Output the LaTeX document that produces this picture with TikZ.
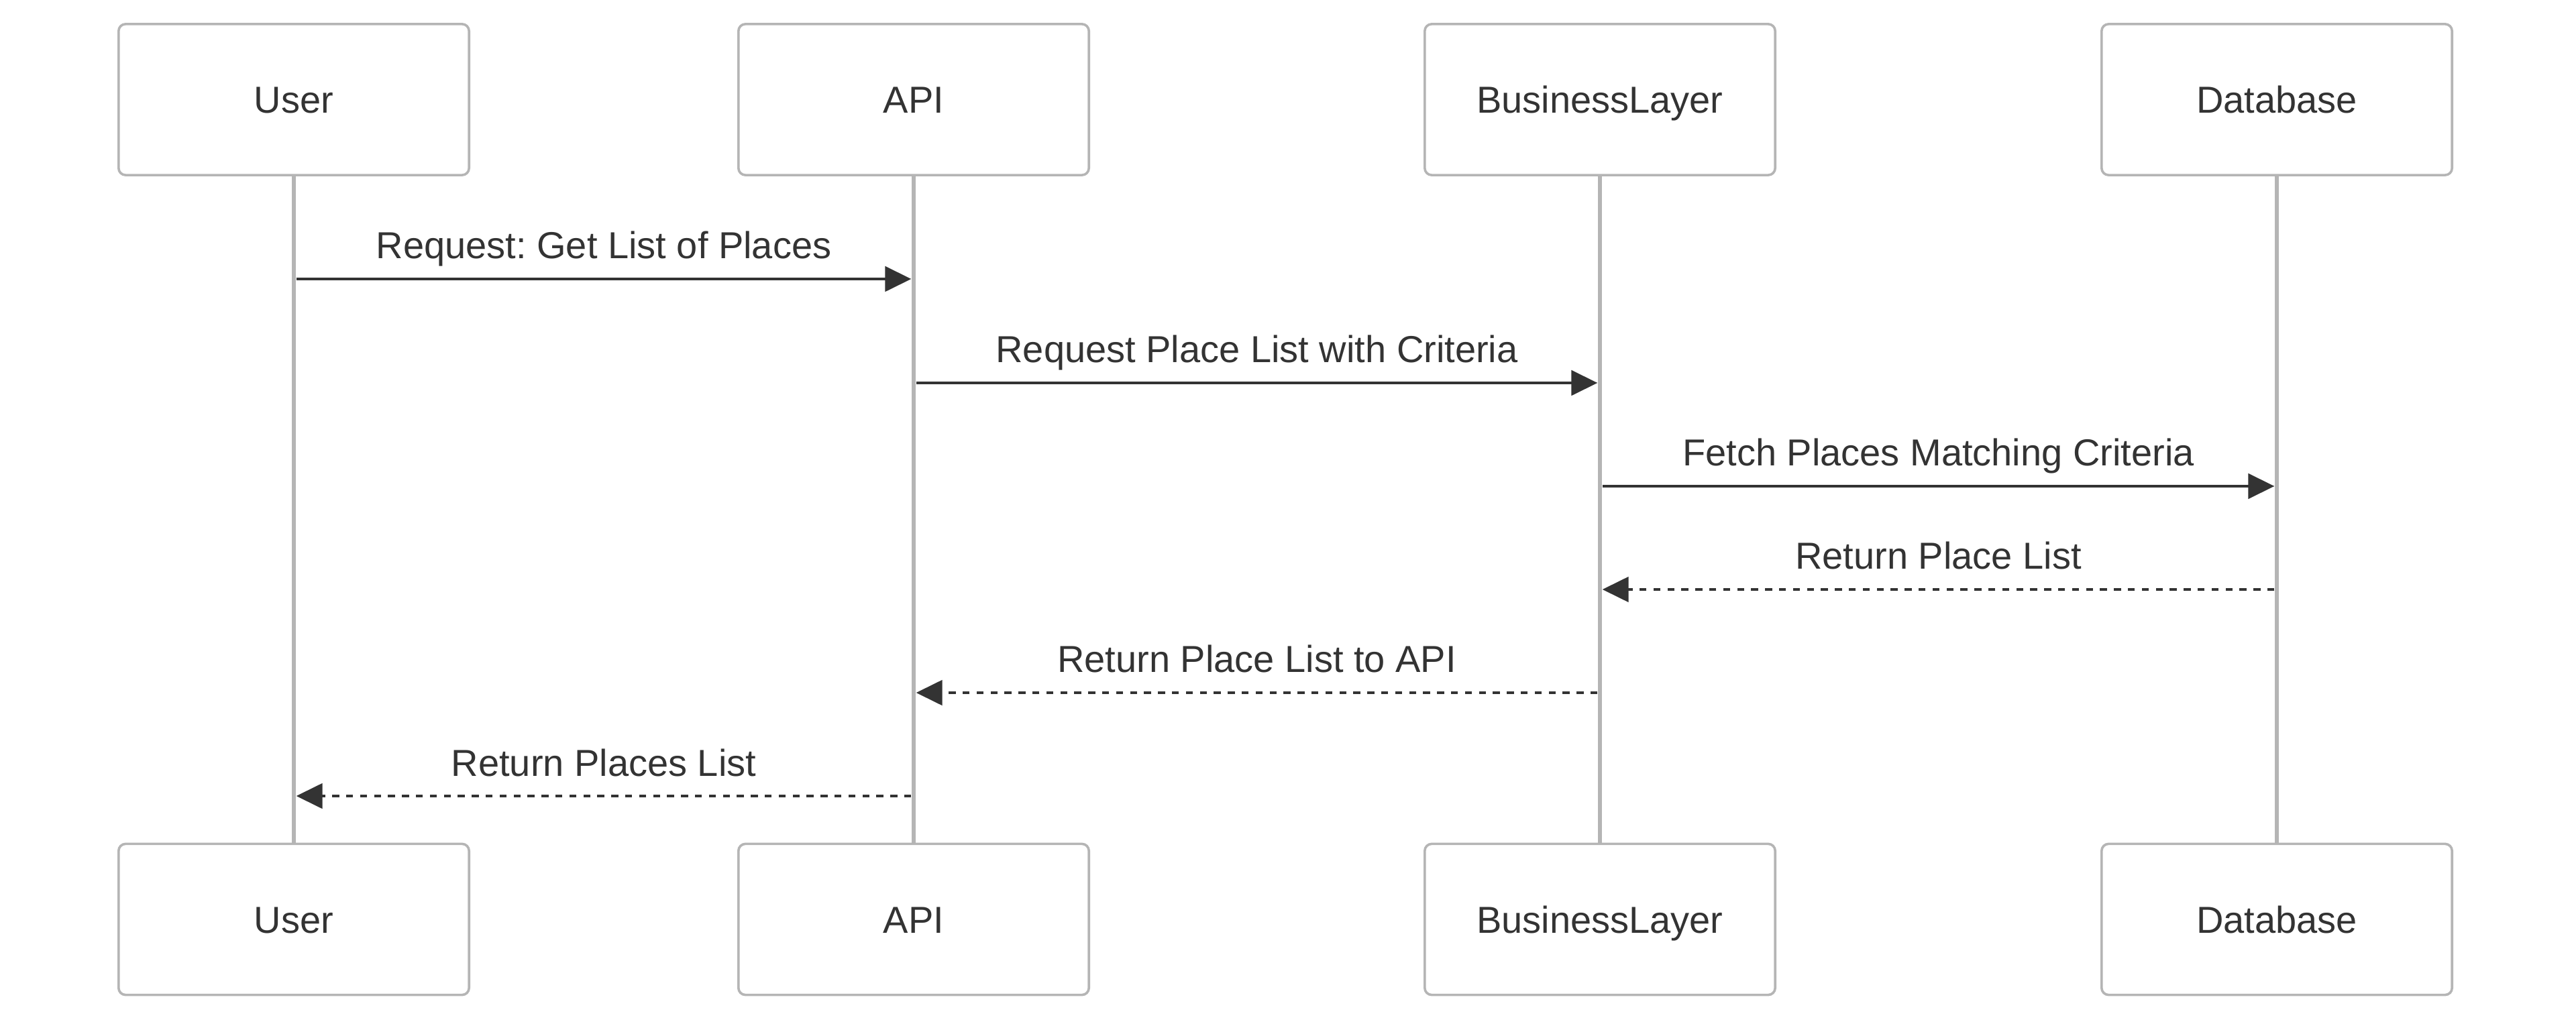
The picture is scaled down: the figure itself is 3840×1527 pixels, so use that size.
\documentclass[tikz,border=0pt]{standalone}
\usepackage{fontspec}
\setmainfont{Liberation Sans}
\usetikzlibrary{arrows.meta,calc}
\definecolor{txt}{HTML}{333333}
\definecolor{bord}{HTML}{B5B5B5}
\frenchspacing
\begin{document}
\begin{tikzpicture}[x=0.25pt,y=-0.25pt,
  actor/.style={draw=bord, line width=0.9pt, fill=white, rounded corners=2.6pt,
    minimum width=130.6pt, minimum height=56.3pt, inner sep=0pt,
    font=\fontsize{14}{16}\selectfont, text=txt, text height=10pt, text depth=0pt},
  life/.style={draw=bord, line width=1.6pt},
  msg/.style={draw=txt, line width=1.2pt, -{Triangle[length=9.75pt,width=9.25pt]},
    shorten <=0.9pt, shorten >=0.9pt},
  ret/.style={msg, dash pattern=on 2.6pt off 2.6pt},
  lbl/.style={font=\fontsize{14}{16}\selectfont, text=txt, anchor=base, inner sep=0pt}]
\useasboundingbox[fill=white] (0,0) rectangle (3840,1527);

\coordinate (uL) at (438,148.5);
\coordinate (aL) at (1362,148.5);
\coordinate (bL) at (2385,148.5);
\coordinate (dL) at (3394,148.5);

\node[actor] (uT) at (uL) {User};
\node[actor] (aT) at (aL) {API};
\node[actor] (bT) at (bL) {BusinessLayer};
\node[actor] (dT) at (dL) {Database};

\node[actor] (uB) at (438,1371) {User};
\node[actor] (aB) at (1362,1371) {API};
\node[actor] (bB) at (2385,1371) {BusinessLayer};
\node[actor] (dB) at (3394,1371) {Database};

\draw[life] (uT.south) -- (uB.north);
\draw[life] (aT.south) -- (aB.north);
\draw[life] (bT.south) -- (bB.north);
\draw[life] (dT.south) -- (dB.north);

\coordinate (u1) at (uT.south |- 0,416);
\coordinate (a1) at (aT.south |- 0,416);
\coordinate (a2) at (aT.south |- 0,571);
\coordinate (b2) at (bT.south |- 0,571);
\coordinate (b3) at (bT.south |- 0,725);
\coordinate (d3) at (dT.south |- 0,725);
\coordinate (d4) at (dT.south |- 0,879);
\coordinate (b4) at (bT.south |- 0,879);
\coordinate (b5) at (bT.south |- 0,1033);
\coordinate (a5) at (aT.south |- 0,1033);
\coordinate (a6) at (aT.south |- 0,1187);
\coordinate (u6) at (uT.south |- 0,1187);

\draw[msg] (u1) -- (a1);
\draw[msg] (a2) -- (b2);
\draw[msg] (b3) -- (d3);
\draw[ret] (d4) -- (b4);
\draw[ret] (b5) -- (a5);
\draw[ret] (a6) -- (u6);

\node[lbl] (l1) at ($(u1)!0.5!(a1)+(0,-30)$) {Request: Get List of Places};
\node[lbl] (l2) at ($(a2)!0.5!(b2)+(0,-30)$) {Request Place List with Criteria};
\node[lbl] (l3) at ($(b3)!0.5!(d3)+(0,-30)$) {Fetch Places Matching Criteria};
\node[lbl] (l4) at ($(d4)!0.5!(b4)+(0,-30)$) {Return Place List};
\node[lbl] (l5) at ($(b5)!0.5!(a5)+(0,-30)$) {Return Place List to API};
\node[lbl] (l6) at ($(a6)!0.5!(u6)+(0,-30)$) {Return Places List};
\end{tikzpicture}
\end{document}
